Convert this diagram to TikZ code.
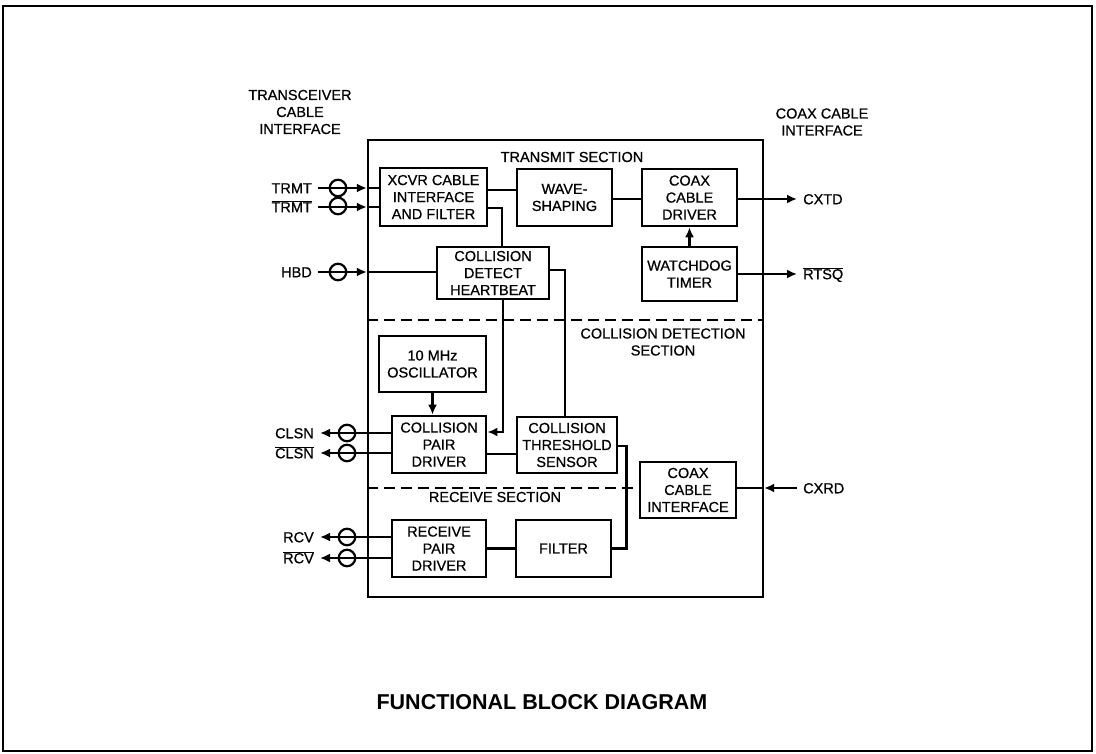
\documentclass[tikz,border=0pt]{standalone}
\usepackage{fontspec}
\setmainfont{Liberation Sans}
\newfontfamily\diafont{Liberation Sans}[FakeBold=0.7]
\usetikzlibrary{arrows.meta}
\newcommand{\blkfont}{\diafont\fontsize{14.5}{17}\selectfont}
\newcommand{\nsig}[1]{$\overline{\mbox{#1}}$}

\begin{document}
\begin{tikzpicture}[x=1pt,y=-1pt,
  blk/.style={draw,line width=2.7pt,align=center,inner sep=0pt,font=\blkfont},
  wire/.style={line width=2.5pt},
  sect/.style={line width=2.2pt,dash pattern=on 11pt off 6pt},
  ring/.style={draw,circle,line width=2.2pt,minimum size=16.5pt,inner sep=0pt},
  txt/.style={font=\blkfont,align=center,inner sep=0pt},
  sig/.style={font=\blkfont,inner ysep=0pt,inner xsep=6pt,text height=10.5pt,text depth=0pt},
  >={Latex[length=10pt,width=9pt]}]
\useasboundingbox (0,0) rectangle (1096,754);
\draw[line width=1.8pt] (3,6) rectangle (1092,751);

\node[draw,line width=2.3pt,minimum width=395pt,minimum height=457pt,inner sep=0pt] (chip) at (565.5,368.5) {};

\node[txt] (txlbl) at (300,112) {TRANSCEIVER\\CABLE\\INTERFACE};
\node[txt] (cxlbl) at (822,122) {COAX CABLE\\INTERFACE};
\node[txt] (trsec) at (572,157) {TRANSMIT SECTION};
\node[txt] (cdsec) at (663,342) {COLLISION DETECTION\\SECTION};
\node[txt] (rcsec) at (495,497) {RECEIVE SECTION};

\node[blk,minimum width=107pt,minimum height=58pt] (xcvr) at (433.5,197) {XCVR CABLE\\INTERFACE\\AND FILTER};
\node[blk,minimum width=95pt,minimum height=57pt] (wave) at (564.5,197.5) {WAVE-\\SHAPING};
\node[blk,minimum width=95pt,minimum height=57pt] (cdrv) at (689.5,197.5) {COAX\\CABLE\\DRIVER};
\node[blk,minimum width=95pt,minimum height=54pt] (wdog) at (689.5,274) {WATCHDOG\\TIMER};
\node[blk,minimum width=112pt,minimum height=52pt] (hbt) at (493,273) {COLLISION\\DETECT\\HEARTBEAT};
\node[blk,minimum width=107pt,minimum height=56pt] (osc) at (432.5,364) {10 MHz\\OSCILLATOR};
\node[blk,minimum width=94pt,minimum height=57pt] (cpd) at (439,444.5) {COLLISION\\PAIR\\DRIVER};
\node[blk,minimum width=100pt,minimum height=56pt] (cts) at (567,445) {COLLISION\\THRESHOLD\\SENSOR};
\node[blk,minimum width=96pt,minimum height=56pt] (cci) at (688,490) {COAX\\CABLE\\INTERFACE};
\node[blk,minimum width=94pt,minimum height=57pt] (rpd) at (439,548.5) {RECEIVE\\PAIR\\DRIVER};
\node[blk,minimum width=95pt,minimum height=57pt] (filt) at (563.5,548.5) {FILTER};

\node[sig,anchor=east] (trmt) at (318,188) {TRMT};
\node[sig,anchor=east] (trmtn) at (318,207) {\nsig{TRMT}};
\node[sig,anchor=east] (hbd) at (318,272) {HBD};
\node[sig,anchor=east] (clsn) at (320,433) {CLSN};
\node[sig,anchor=east] (clsnn) at (320,453) {\nsig{CLSN}};
\node[sig,anchor=east] (rcv) at (320,537) {RCV};
\node[sig,anchor=east] (rcvn) at (320,558) {\nsig{RCV}};
\node[sig,anchor=west] (cxtd) at (797,199) {CXTD};
\node[sig,anchor=west] (rtsq) at (797,274) {\nsig{RTSQ}};
\node[sig,anchor=west] (cxrd) at (797,488) {CXRD};

\node[ring] (rt1) at (338,188) {};
\node[ring] (rt2) at (338,206) {};
\node[ring] (rh) at (338,272) {};
\node[ring] (rc1) at (347,433) {};
\node[ring] (rc2) at (347,453) {};
\node[ring] (rr1) at (347,537) {};
\node[ring] (rr2) at (347,558) {};

\draw[wire,->] (trmt) -- (chip.west |- trmt);
\draw[wire] (chip.west |- trmt) -- (xcvr.west |- trmt);
\draw[wire,->] (trmtn) -- (chip.west |- trmtn);
\draw[wire] (chip.west |- trmtn) -- (xcvr.west |- trmtn);
\draw[wire,->] (hbd) -- (chip.west |- hbd);
\draw[wire] (chip.west |- hbd) -- (hbt.west |- hbd);
\draw[wire,->] (cpd.west |- clsn) -- (clsn);
\draw[wire,->] (cpd.west |- clsnn) -- (clsnn);
\draw[wire,->] (rpd.west |- rcv) -- (rcv);
\draw[wire,->] (rpd.west |- rcvn) -- (rcvn);

\draw[wire] (xcvr.east |- 0,190) -- (wave.west |- 0,190);
\draw[wire] (wave.east |- 0,199) -- (cdrv.west |- 0,199);
\draw[wire,->] (cdrv.east |- cxtd) -- (cxtd);
\draw[wire,->] (wdog.east) -- (rtsq);
\draw[wire,->] (wdog.north) -- (cdrv.south);
\draw[wire] (xcvr.east |- 0,208) -| ([xshift=9pt]hbt.north);
\draw[wire] (hbt.east |- 0,270) -| ([xshift=-2pt]cts.north);
\draw[wire,->] ([xshift=10pt]hbt.south) |- (cpd.east |- 0,432);
\draw[wire,->] (osc.south) -- (osc.south |- cpd.north);
\draw[wire] (cpd.east |- 0,454) -- (cts.west |- 0,454);
\draw[wire] (cts.east |- 0,446) -- ++(8,0) |- (filt.east);
\draw[wire] (rpd.east) -- (filt.west);
\draw[wire,->] (cxrd) -- (chip.east |- cxrd);
\draw[wire] (chip.east |- cxrd) -- (cci.east |- cxrd);

\draw[sect] (chip.west |- 0,320) -- (chip.east |- 0,320);
\draw[sect] (chip.west |- 0,488) -- (cci.west |- 0,488);

\node[font=\bfseries\fontsize{21.5}{26}\selectfont] (title) at (542,702) {FUNCTIONAL BLOCK DIAGRAM};
\end{tikzpicture}
\end{document}
